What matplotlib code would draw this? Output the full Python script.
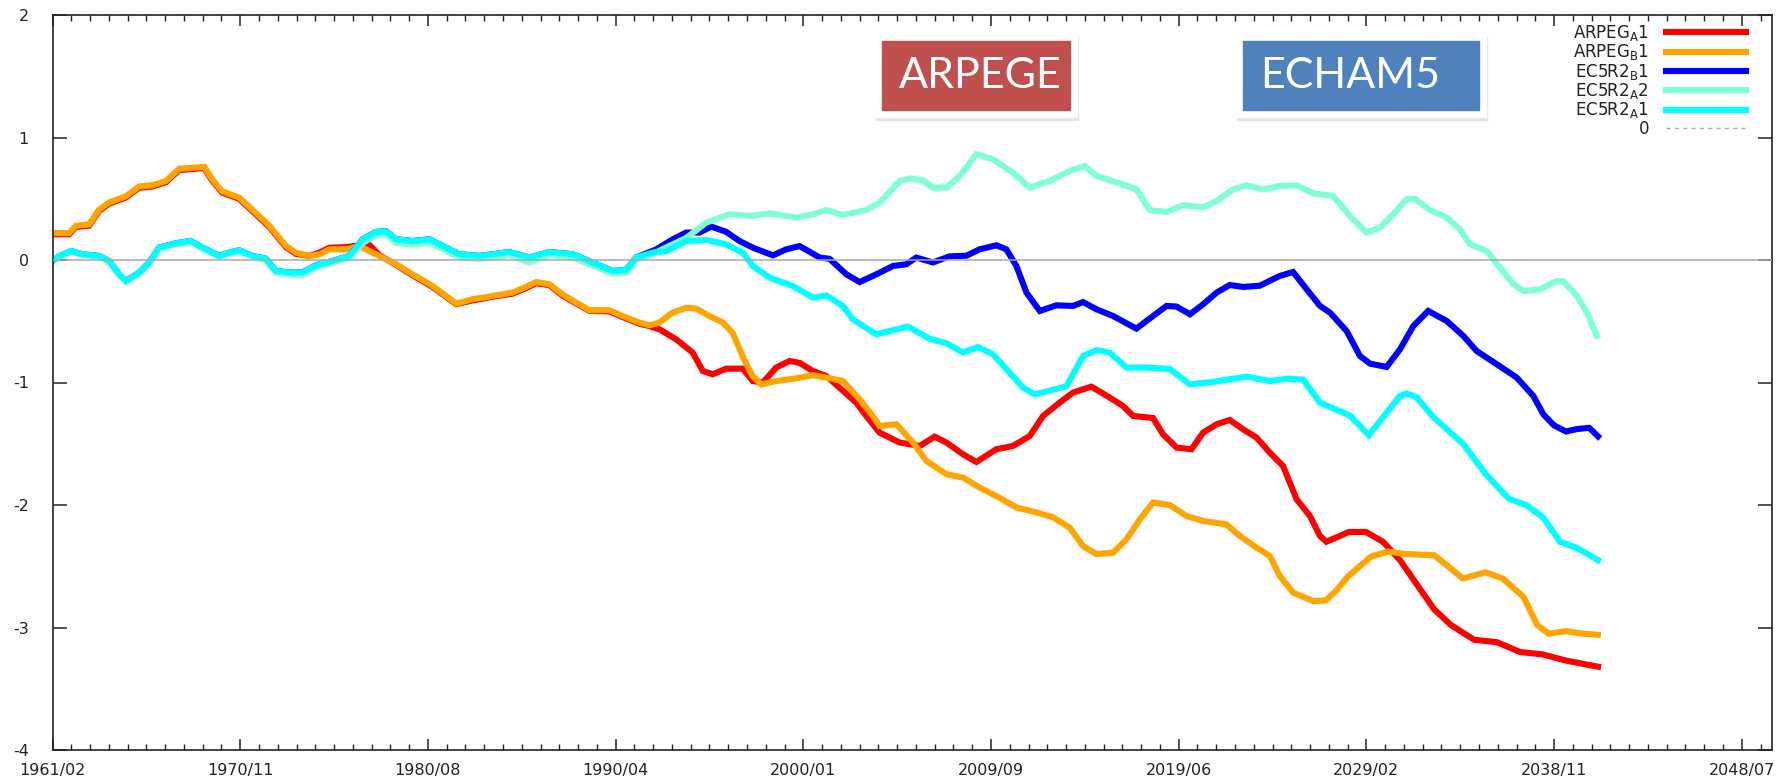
import numpy as np
import matplotlib
matplotlib.use("Agg")
import matplotlib.pyplot as plt
from matplotlib.lines import Line2D
from matplotlib.patches import Rectangle

# ---- data (decimal year, anomaly) ----
arpeg_b1_x = [1961.08, 1961.94, 1962.29, 1962.97, 1963.49, 1964.01, 1964.88, 1965.56, 1966.24, 1966.95,
              1967.64, 1968.50, 1968.93, 1969.34, 1969.86, 1970.74, 1971.42, 1972.30, 1973.16, 1973.68,
              1974.37, 1974.89, 1975.41, 1976.27, 1976.96, 1977.99, 1978.86, 1979.72, 1980.75, 1981.45,
              1981.96, 1982.82, 1983.84, 1984.88, 1985.50, 1986.11, 1986.79, 1987.47, 1988.18, 1988.87,
              1989.90, 1990.57, 1991.45, 1991.97, 1992.49, 1993.16, 1993.87, 1994.39, 1995.08, 1995.77,
              1996.27, 1996.79, 1997.30, 1997.76, 1998.53, 1999.38, 2000.43, 2001.12, 2001.98, 2002.85,
              2003.52, 2003.88, 2004.75, 2005.61, 2006.30, 2007.34, 2008.20, 2009.06, 2009.92, 2010.96,
              2011.99, 2012.85, 2013.72, 2014.41, 2015.10, 2015.96, 2016.66, 2017.35, 2018.03, 2018.90,
              2019.76, 2020.62, 2021.83, 2022.52, 2023.39, 2024.07, 2024.59, 2025.28, 2026.32, 2026.97,
              2027.50, 2028.14, 2029.32, 2030.20, 2031.10, 2032.58, 2033.30, 2034.06, 2035.24, 2036.13,
              2037.20, 2037.91, 2038.50, 2039.39, 2040.28, 2041.05]
arpeg_b1_y = [0.22, 0.22, 0.28, 0.29, 0.41, 0.47, 0.52, 0.60, 0.61, 0.645,
              0.745, 0.755, 0.76, 0.66, 0.56, 0.51, 0.41, 0.28, 0.115, 0.06,
              0.033, 0.045, 0.087, 0.087, 0.114, 0.033, -0.035, -0.117, -0.212, -0.294,
              -0.356, -0.32, -0.294, -0.266, -0.225, -0.18, -0.198, -0.28, -0.348, -0.41,
              -0.41, -0.457, -0.511, -0.533, -0.511, -0.43, -0.389, -0.397, -0.457, -0.511,
              -0.593, -0.784, -0.947, -1.015, -0.988, -0.97, -0.941, -0.96, -0.988, -1.137,
              -1.273, -1.355, -1.341, -1.49, -1.64, -1.749, -1.776, -1.858, -1.927, -2.02,
              -2.06, -2.10, -2.185, -2.335, -2.40, -2.39, -2.28, -2.117, -1.98, -2.00,
              -2.09, -2.13, -2.158, -2.253, -2.348, -2.416, -2.58, -2.715, -2.784, -2.78,
              -2.70, -2.58, -2.42, -2.38, -2.40, -2.41, -2.50, -2.60, -2.55, -2.60,
              -2.75, -2.98, -3.05, -3.03, -3.05, -3.06]

arpeg_a1_x = [1961.08, 1961.94, 1962.29, 1962.97, 1963.49, 1964.01, 1964.88, 1965.56, 1966.24, 1966.95,
              1967.64, 1968.50, 1968.93, 1969.34, 1969.86, 1970.74, 1971.42, 1972.30, 1973.16, 1973.68,
              1974.37, 1974.89, 1975.41, 1976.27, 1976.96, 1977.47, 1977.99, 1978.86, 1979.72, 1980.75,
              1981.45, 1981.96, 1982.82, 1983.84, 1984.88, 1985.50, 1986.11, 1986.79, 1987.47, 1988.18,
              1988.87, 1989.90, 1990.57, 1991.45, 1991.97, 1992.49, 1993.35, 1994.21, 1994.73, 1995.25,
              1995.94, 1996.80, 1997.32, 1997.84, 1998.53, 1999.22, 1999.74, 2000.43, 2001.12, 2001.81,
              2002.67, 2003.19, 2003.88, 2004.92, 2005.96, 2006.73, 2007.34, 2008.20, 2008.89, 2009.92,
              2010.78, 2011.65, 2012.34, 2013.20, 2013.89, 2014.84, 2015.79, 2016.48, 2017.00, 2018.03,
              2018.55, 2019.25, 2020.02, 2020.62, 2021.32, 2022.00, 2022.69, 2023.39, 2024.07, 2024.76,
              2025.46, 2026.15, 2026.67, 2027.00, 2028.17, 2029.05, 2029.93, 2030.81, 2031.69, 2032.57,
              2033.45, 2034.64, 2035.83, 2037.02, 2038.21, 2039.40, 2041.06]
arpeg_a1_y = [0.21, 0.21, 0.27, 0.28, 0.40, 0.46, 0.51, 0.59, 0.60, 0.635,
              0.735, 0.745, 0.75, 0.65, 0.55, 0.50, 0.40, 0.27, 0.105, 0.05,
              0.033, 0.06, 0.10, 0.105, 0.12, 0.125, 0.04, -0.04, -0.125, -0.22,
              -0.30, -0.36, -0.33, -0.30, -0.275, -0.235, -0.19, -0.205, -0.29, -0.355,
              -0.415, -0.42, -0.465, -0.52, -0.54, -0.566, -0.647, -0.756, -0.906, -0.933,
              -0.887, -0.887, -0.988, -1.00, -0.878, -0.824, -0.84, -0.906, -0.947, -1.042,
              -1.164, -1.273, -1.409, -1.49, -1.518, -1.442, -1.49, -1.586, -1.649, -1.545,
              -1.518, -1.437, -1.273, -1.164, -1.082, -1.034, -1.123, -1.192, -1.273, -1.29,
              -1.423, -1.531, -1.545, -1.409, -1.341, -1.306, -1.382, -1.45, -1.572, -1.682,
              -1.953, -2.09, -2.253, -2.30, -2.22, -2.22, -2.30, -2.45, -2.65, -2.85,
              -2.98, -3.10, -3.12, -3.20, -3.22, -3.27, -3.32]

ec5r2_a1_x = [1961.08, 1961.42, 1962.03, 1962.63, 1963.49, 1964.01, 1964.53, 1964.88, 1965.56, 1966.08,
              1966.60, 1967.46, 1968.24, 1968.84, 1969.71, 1970.22, 1970.74, 1971.43, 1972.12, 1972.64,
              1973.50, 1974.02, 1974.71, 1975.57, 1976.44, 1977.13, 1977.82, 1978.34, 1978.86, 1979.72,
              1980.58, 1981.27, 1982.13, 1983.17, 1984.72, 1985.76, 1986.79, 1988.00, 1989.04, 1990.07,
              1990.77, 1991.28, 1992.14, 1992.84, 1993.87, 1994.91, 1995.94, 1996.80, 1997.32, 1998.19,
              1999.39, 2000.43, 2001.12, 2001.98, 2002.50, 2003.71, 2004.75, 2005.35, 2006.46, 2007.34,
              2008.20, 2008.97, 2009.75, 2010.61, 2011.30, 2011.91, 2012.85, 2013.55, 2014.41, 2015.10,
              2015.79, 2016.66, 2017.69, 2018.90, 2019.94, 2021.14, 2022.87, 2024.07, 2024.94, 2025.80,
              2026.67, 2028.22, 2029.20, 2030.10, 2030.81, 2031.15, 2031.67, 2032.52, 2034.07, 2035.26,
              2036.45, 2037.33, 2038.21, 2039.09, 2039.97, 2041.06]
ec5r2_a1_y = [-0.008, 0.03, 0.073, 0.047, 0.033, -0.008, -0.117, -0.171, -0.103, -0.021,
              0.101, 0.136, 0.155, 0.101, 0.033, 0.06, 0.079, 0.033, 0.01, -0.09,
              -0.103, -0.10, -0.043, -0.008, 0.033, 0.169, 0.229, 0.235, 0.169, 0.155,
              0.169, 0.114, 0.047, 0.033, 0.065, 0.02, 0.065, 0.047, -0.021, -0.09,
              -0.08, 0.02, 0.06, 0.073, 0.155, 0.163, 0.128, 0.06, -0.049, -0.144,
              -0.212, -0.307, -0.29, -0.375, -0.484, -0.607, -0.566, -0.544, -0.642, -0.68,
              -0.756, -0.71, -0.77, -0.92, -1.042, -1.096, -1.06, -1.03, -0.784, -0.735,
              -0.756, -0.878, -0.878, -0.89, -1.015, -0.995, -0.952, -0.988, -0.97, -0.976,
              -1.164, -1.27, -1.43, -1.25, -1.11, -1.09, -1.12, -1.28, -1.50, -1.75,
              -1.95, -2.00, -2.10, -2.30, -2.35, -2.45]

ec5r2_a2_x = [1961.08, 1961.42, 1962.03, 1962.63, 1963.49, 1964.01, 1964.53, 1964.88, 1965.56, 1966.08,
              1966.60, 1967.46, 1968.24, 1968.84, 1969.71, 1970.22, 1970.74, 1971.43, 1972.12, 1972.64,
              1973.50, 1974.02, 1974.71, 1975.57, 1976.44, 1977.13, 1977.82, 1978.34, 1978.86, 1979.72,
              1980.58, 1981.27, 1982.13, 1983.17, 1984.72, 1985.76, 1986.79, 1988.00, 1989.04, 1990.07,
              1990.77, 1991.28, 1992.14, 1993.87, 1994.91, 1996.11, 1997.30, 1998.19, 1999.57, 2000.43,
              2001.12, 2001.98, 2003.19, 2003.88, 2004.92, 2005.44, 2006.13, 2006.64, 2007.34, 2008.03,
              2008.89, 2009.75, 2010.78, 2011.65, 2012.68, 2013.72, 2014.50, 2015.10, 2016.31, 2017.17,
              2017.86, 2018.73, 2019.59, 2020.62, 2021.32, 2022.18, 2022.87, 2023.73, 2024.59, 2025.46,
              2026.32, 2027.36, 2028.22, 2029.08, 2029.77, 2030.46, 2031.15, 2031.58, 2032.36, 2033.23,
              2033.91, 2034.43, 2035.30, 2035.99, 2036.68, 2037.20, 2038.06, 2038.92, 2039.27, 2039.97,
              2040.49, 2041.00]
ec5r2_a2_y = [-0.01, 0.028, 0.07, 0.045, 0.03, -0.01, -0.12, -0.175, -0.105, -0.025,
              0.095, 0.13, 0.15, 0.095, 0.028, 0.055, 0.075, 0.028, 0.0, -0.10,
              -0.12, -0.12, -0.06, -0.02, 0.02, 0.14, 0.20, 0.21, 0.14, 0.125,
              0.14, 0.09, 0.02, 0.01, 0.04, -0.02, 0.04, 0.02, -0.045, -0.11,
              -0.10, 0.0, 0.05, 0.18, 0.305, 0.373, 0.36, 0.38, 0.346, 0.373,
              0.408, 0.368, 0.408, 0.468, 0.645, 0.665, 0.65, 0.591, 0.591, 0.686,
              0.863, 0.822, 0.713, 0.591, 0.645, 0.727, 0.767, 0.686, 0.626, 0.577,
              0.408, 0.392, 0.447, 0.43, 0.482, 0.577, 0.61, 0.577, 0.604, 0.61,
              0.545, 0.522, 0.359, 0.224, 0.264, 0.373, 0.496, 0.50, 0.408, 0.346,
              0.25, 0.128, 0.073, -0.062, -0.198, -0.253, -0.24, -0.171, -0.175, -0.294,
              -0.43, -0.62]

ec5r2_b1_x = [1961.08, 1961.42, 1962.03, 1962.63, 1963.49, 1964.01, 1964.53, 1964.88, 1965.56, 1966.08,
              1966.60, 1967.46, 1968.24, 1968.84, 1969.71, 1970.22, 1970.74, 1971.43, 1972.12, 1972.64,
              1973.50, 1974.02, 1974.71, 1975.57, 1976.44, 1977.13, 1977.82, 1978.34, 1978.86, 1979.72,
              1980.58, 1981.27, 1982.13, 1983.17, 1984.72, 1985.76, 1986.79, 1988.00, 1989.04, 1990.07,
              1990.77, 1991.28, 1992.32, 1993.18, 1993.87, 1994.56, 1995.17, 1995.94, 1996.63, 1997.32,
              1998.36, 1999.05, 1999.74, 2000.78, 2001.29, 2002.16, 2002.85, 2003.71, 2004.57, 2005.26,
              2005.78, 2006.64, 2007.50, 2008.37, 2009.06, 2009.92, 2010.44, 2010.96, 2011.48, 2012.17,
              2013.03, 2013.89, 2014.41, 2015.10, 2015.96, 2017.17, 2018.03, 2018.73, 2019.25, 2019.94,
              2020.62, 2021.32, 2022.00, 2022.69, 2023.55, 2024.59, 2025.28, 2025.98, 2026.67, 2027.19,
              2028.05, 2028.74, 2029.26, 2030.12, 2030.81, 2031.50, 2032.27, 2033.23, 2034.09, 2034.78,
              2035.82, 2036.85, 2037.71, 2038.23, 2038.78, 2039.40, 2039.97, 2040.60, 2041.06]
ec5r2_b1_y = [-0.008, 0.03, 0.073, 0.047, 0.033, -0.008, -0.117, -0.171, -0.103, -0.021,
              0.101, 0.136, 0.155, 0.101, 0.033, 0.06, 0.079, 0.033, 0.01, -0.09,
              -0.103, -0.10, -0.043, -0.008, 0.033, 0.169, 0.229, 0.235, 0.169, 0.155,
              0.169, 0.114, 0.047, 0.033, 0.065, 0.02, 0.065, 0.047, -0.021, -0.09,
              -0.08, 0.02, 0.087, 0.169, 0.224, 0.224, 0.273, 0.23, 0.155, 0.101,
              0.038, 0.087, 0.114, 0.02, 0.01, -0.117, -0.18, -0.117, -0.049, -0.035,
              0.02, -0.02, 0.03, 0.035, 0.087, 0.12, 0.087, -0.049, -0.266, -0.416,
              -0.37, -0.375, -0.343, -0.402, -0.457, -0.56, -0.457, -0.375, -0.38, -0.443,
              -0.362, -0.266, -0.204, -0.22, -0.21, -0.13, -0.098, -0.239, -0.375, -0.43,
              -0.58, -0.784, -0.846, -0.873, -0.729, -0.539, -0.416, -0.498, -0.62, -0.743,
              -0.851, -0.96, -1.11, -1.26, -1.35, -1.40, -1.38, -1.37, -1.44]

series_labels = [r"ARPEG$_\mathregular{A}$1", r"ARPEG$_\mathregular{B}$1", r"EC5R2$_\mathregular{B}$1",
                 r"EC5R2$_\mathregular{A}$2", r"EC5R2$_\mathregular{A}$1"]
series_colors = ["#ff0000", "#ffa500", "#0000ff", "#7fffd4", "#00ffff"]

tick_labels = ["1961/02", "1970/11", "1980/08", "1990/04", "2000/01",
               "2009/09", "2019/06", "2029/02", "2038/11", "2048/07"]
x_start = 1961.08
tick_step = 9.713
x_end = x_start + tick_step * 9.161

model_boxes = ["ARPEGE", "ECHAM5"]
box_colors = ["#c0504d", "#4f81bd"]

# ---- figure ----
W, H = 1792, 779
fig = plt.figure(figsize=(W / 100, H / 100), dpi=100)
ax = fig.add_axes([52.5 / W, 1 - 750 / H, (1772 - 52.5) / W, (750 - 15) / H])

xs = [arpeg_a1_x, arpeg_b1_x, ec5r2_b1_x, ec5r2_a2_x, ec5r2_a1_x]
ys = [arpeg_a1_y, arpeg_b1_y, ec5r2_b1_y, ec5r2_a2_y, ec5r2_a1_y]
handles = []
for x, y, c, lab in zip(xs, ys, series_colors, series_labels):
    ln, = ax.plot(x, y, color=c, lw=4.4, solid_joinstyle="miter", label=lab)
    handles.append(ln)
ax.axhline(0, color="#a8a8a8", lw=1.1, zorder=5)
handles.append(Line2D([], [], color="#b0b0b0", lw=1.0, linestyle=(0, (3, 3)), label="0"))

major = x_start + tick_step * np.arange(len(tick_labels))
minor = np.arange(x_start, x_end, tick_step / 10)
ax.set_xticks(major)
ax.set_xticklabels(tick_labels)
ax.set_xticks(minor, minor=True)
ax.set_yticks(range(-4, 3))
ax.set_yticklabels([str(v) for v in range(-4, 3)])
ax.set_xlim(x_start, x_end)
ax.set_ylim(-4, 2)

for s in ax.spines.values():
    s.set_color("#222222")
    s.set_linewidth(1.2)
ax.tick_params(axis="both", which="both", direction="in", top=True, right=True,
               color="#222222", labelcolor="#222222", labelsize=11.5)
ax.tick_params(axis="x", which="major", length=8, width=1.1, pad=9)
ax.tick_params(axis="x", which="minor", length=4.5, width=1.0)
ax.tick_params(axis="y", which="major", length=10, width=1.1, pad=17)
ax.tick_params(axis="y", which="minor", left=False, right=False)

leg = ax.legend(handles=handles, loc="upper right", bbox_to_anchor=(0.9847, 0.989),
                frameon=False, markerfirst=False, fontsize=12, handlelength=4.8,
                handletextpad=1.0, labelspacing=-0.04, borderpad=0, borderaxespad=0)
for t in leg.get_texts():
    t.set_color("#222222")


# model name boxes (pixel positions in the 1792x779 figure)
def px(v):
    return v / W


def py(v):
    return 1 - v / H


box_pos = [(882, 41, 1070, 110), (1243, 41, 1479, 110)]
for (x0, y0, x1, y1), c, txt in zip(box_pos, box_colors, model_boxes):
    fig.add_artist(Rectangle((px(x0 - 6), py(y1 + 10)), px(x1 - x0 + 14), (y1 - y0 + 14) / H,
                             transform=fig.transFigure, color="#e4e4e4", zorder=10))
    fig.add_artist(Rectangle((px(x0 - 7), py(y1 + 7)), px(x1 - x0 + 14), (y1 - y0 + 14) / H,
                             transform=fig.transFigure, color="white", zorder=11))
    fig.add_artist(Rectangle((px(x0), py(y1)), px(x1 - x0), (y1 - y0) / H,
                             transform=fig.transFigure, color=c, zorder=12))
    fig.text(px(x0 + 17), py((y0 + y1) / 2 + 1), txt, color="white", fontsize=31,
             family="Lato", ha="left", va="center", zorder=13)

fig.savefig("out.png", dpi=100)
